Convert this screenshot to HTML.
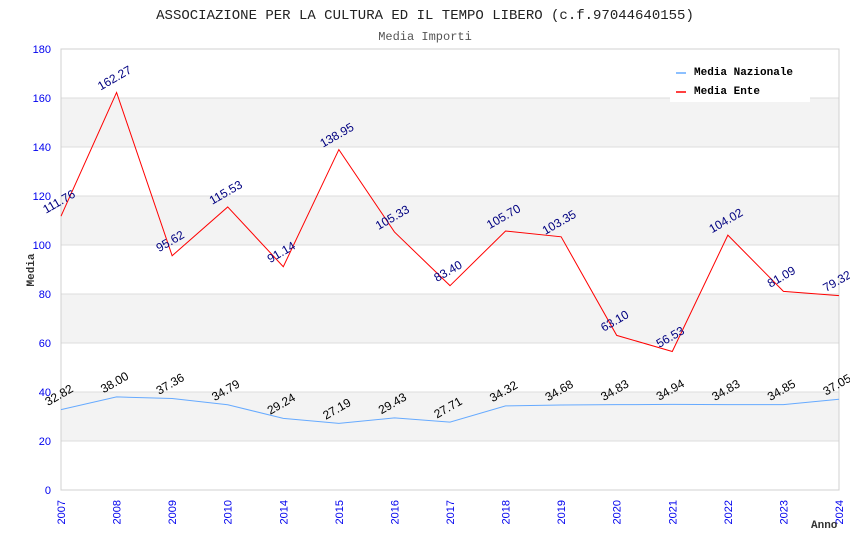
<!DOCTYPE html>
<html><head><meta charset="utf-8"><style>
body{margin:0;background:#fff;}
svg{display:block;font-family:"Liberation Sans",sans-serif;}
</style></head><body>
<svg id="chart" width="850" height="550" xmlns="http://www.w3.org/2000/svg">
<text x="425" y="19" text-anchor="middle" font-family="Liberation Mono, monospace" font-size="14" fill="#222">ASSOCIAZIONE PER LA CULTURA ED IL TEMPO LIBERO (c.f.97044640155)</text>
<text x="425" y="40" text-anchor="middle" font-family="Liberation Mono, monospace" font-size="12" fill="#555">Media Importi</text>
<g id="grid"></g>
<g id="series"></g>
<g id="labels"></g>
<text transform="translate(34,270) rotate(-90)" text-anchor="middle" font-family="Liberation Mono, monospace" font-weight="bold" font-size="11" fill="#333">Media</text>
<text x="811" y="528" font-family="Liberation Mono, monospace" font-weight="bold" font-size="11" fill="#333">Anno</text>
<g>
<rect x="670" y="60" width="140" height="42" fill="#fff"/>
<line x1="676" y1="73" x2="686" y2="73" stroke="#66aaff" stroke-width="1.5"/>
<text x="694" y="75" font-family="Liberation Mono, monospace" font-weight="bold" font-size="11" fill="#000">Media Nazionale</text>
<line x1="676" y1="92" x2="686" y2="92" stroke="#ff0000" stroke-width="1.5"/>
<text x="694" y="94" font-family="Liberation Mono, monospace" font-weight="bold" font-size="11" fill="#000">Media Ente</text>
</g>
</svg>
<script>
const categories=["2007","2008","2009","2010","2014","2015","2016","2017","2018","2019","2020","2021","2022","2023","2024"];
const enteValues=[111.76,162.27,95.62,115.53,91.14,138.95,105.33,83.40,105.70,103.35,63.10,56.53,104.02,81.09,79.32];
const nazValues=[32.82,38.00,37.36,34.79,29.24,27.19,29.43,27.71,34.32,34.68,34.83,34.94,34.83,34.85,37.05];
const yTicks=[0,20,40,60,80,100,120,140,160,180];
const NS="http://www.w3.org/2000/svg";
const X0=61,X1=839,Y0=490,Y1=49,YMAX=180;
const xs=i=>X0+(X1-X0)*i/(categories.length-1);
const ys=v=>Y0-(Y0-Y1)*v/YMAX;
function mk(t,a,p){const e=document.createElementNS(NS,t);for(const k in a)e.setAttribute(k,a[k]);p.appendChild(e);return e;}
const grid=document.getElementById('grid'),ser=document.getElementById('series'),lab=document.getElementById('labels');
for(let i=0;i<yTicks.length-1;i++){
 if(i%2===1){const r=mk('rect',{x:X0,y:ys(yTicks[i+1]),width:X1-X0,height:ys(yTicks[i])-ys(yTicks[i+1]),fill:'#f3f3f3'},grid);
 
 }
}
yTicks.forEach(v=>{
 const l=mk('line',{x1:X0,x2:X1,y1:ys(v),y2:ys(v),stroke:'#dddddd','stroke-width':1},grid);
 
 
 const t=mk('text',{x:51,y:ys(v)+4,'text-anchor':'end','font-size':11,fill:'#0000ee'},grid);
 t.textContent=v;
 
 
});
mk('rect',{x:X0,y:Y1,width:X1-X0,height:Y0-Y1,fill:'none',stroke:'#d0d0d0'},grid);
categories.forEach((c,i)=>{
 const t=mk('text',{transform:`translate(${xs(i)+4},500) rotate(-90)`,'text-anchor':'end','font-size':11,fill:'#0000ee'},grid);
 t.textContent=c;
 
 
});
function series(vals,color,lc,name){
 const p=mk('polyline',{points:vals.map((v,i)=>xs(i)+','+ys(v)).join(' '),fill:'none',stroke:color,'stroke-width':1},ser);
 
 
 vals.forEach((v,i)=>{
  const t=mk('text',{transform:`translate(${xs(i)},${ys(v)-11}) rotate(-30)`,'text-anchor':'middle','font-size':12,fill:lc},lab);
  t.textContent=v.toFixed(2);
  
  
 });
}
series(nazValues,'#66aaff','#000','line-media-nazionale');
series(enteValues,'#ff0000','#000080','line-media-ente');
</script>
</body></html>
